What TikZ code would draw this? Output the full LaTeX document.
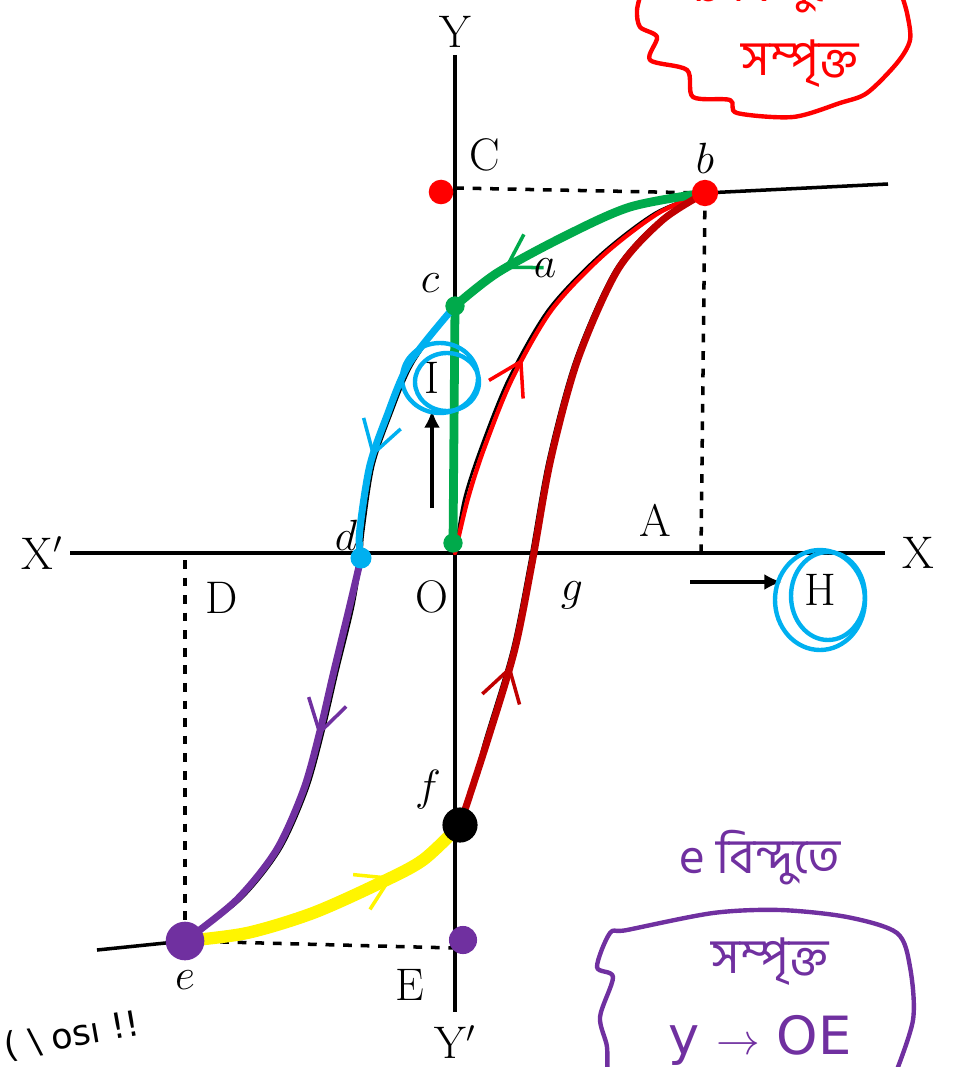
\documentclass[tikz,border=0pt]{standalone}
\usepackage{fontspec}
\newfontfamily\bnfont[Script=Bengali]{Hind Siliguri}
\newfontfamily\handfont{DejaVu Sans}
\usetikzlibrary{arrows.meta,calc,positioning}
\usetikzlibrary{decorations.markings}
\definecolor{grn}{RGB}{0,170,75}
\definecolor{sky}{RGB}{0,176,240}
\definecolor{purp}{RGB}{112,48,160}
\definecolor{dred}{RGB}{192,0,0}
\definecolor{yel}{RGB}{255,245,0}

\begin{document}
\begin{tikzpicture}[x=0.02cm,y=-0.02cm,
every node/.style={font=\fontsize{26}{30}\selectfont},
axis/.style={line width=2pt},
guide/.style={line width=2pt,dash pattern=on 5pt off 5pt},
book/.style={line width=1.5pt},
ink/.style={line width=#1,line cap=round,line join=round},
dot/.style={circle,fill,inner sep=0pt,minimum size=#1},
midarrow/.style={postaction={decorate},decoration={markings,
  mark=at position #1 with {\arrow{Straight Barb[length=18pt,width=22pt,line width=2pt]}}}},
ring/.style={line width=2.5pt,sky},
bn/.style={font=\bnfont\fontsize{28}{32}\selectfont}]
\useasboundingbox (0,0) rectangle (953,1067);
\clip (0,0) rectangle (953,1067);
\coordinate (O) at (455,553);
\coordinate (b) at (705,193);
\coordinate (c) at (455,306);
\coordinate (d) at (361,558);
\coordinate (e) at (185,941);
\coordinate (f) at (460,825);
\coordinate (C) at (455,188);
\coordinate (A) at (701,553);
\coordinate (D) at (185,560);
\coordinate (E) at (455,948);
\coordinate (Ytop) at (455,55);
\coordinate (Ybot) at (455,1012);
\coordinate (Xl) at (70,553);
\coordinate (Xr) at (885,553);
\coordinate (bR) at (888,184);
\coordinate (eL) at (97,950);
\draw[axis] (Ytop)--(Ybot);
\draw[axis] (Xl)--(Xr);
\draw[axis] (b)--(bR);
\draw[axis] (eL)--(e);
\draw[guide] (C)--(b);
\draw[guide] (b)--(A);
\draw[guide] (D)--(e);
\draw[guide] (e)--(E);
\draw[book] plot[smooth] coordinates {(O) (464,500) (480,450) (508,380) (548,310) (600,255) (655,213) (b)};
\draw[book] plot[smooth] coordinates {(b) (630,207) (563,237) (497,273) (c) (413,363) (390,417) (373,467) (363,533) (d) (353,607) (337,673) (323,733) (307,790) (280,850) (240,900) (e)};
\draw[book] plot[smooth] coordinates {(e) (247,933) (313,913) (380,883) (423,860) (f) (485,740) (512,650) (530,560) (548,460) (575,360) (615,270) (660,220) (b)};
\draw[ink=2.5pt,red,midarrow=0.45,xshift=2pt] plot[smooth] coordinates {(O) (464,500) (480,450) (508,380) (548,310) (600,255) (655,213) (b)};
\draw[ink=5pt,grn,midarrow=0.78] plot[smooth] coordinates {(b) (630,207) (563,237) (497,273) (c)};
\draw[ink=5pt,grn] (c)--(453,545);
\draw[ink=4pt,sky,midarrow=0.63,xshift=-2pt] plot[smooth] coordinates {(c) (413,363) (390,417) (373,467) (363,533) (d)};
\draw[ink=4pt,purp,midarrow=0.42,xshift=-2pt] plot[smooth] coordinates {(d) (353,607) (337,673) (323,733) (307,790) (280,850) (240,900) (e)};
\draw[ink=7pt,yel,midarrow=0.72] plot[smooth] coordinates {(e) (247,933) (313,913) (380,883) (423,860) (f)};
\draw[ink=4pt,dred,midarrow=0.24,xshift=1.5pt] plot[smooth] coordinates {(f) (485,740) (512,650) (530,560) (548,460) (575,360) (615,270) (660,220) (b)};
\node[dot=15pt,red] (Pb) at (b) {};
\node[dot=14pt,red] (PC) at (441,192) {};
\node[dot=11pt,grn] (Pc) at (c) {};
\node[dot=11pt,grn] (PO) at (453,543) {};
\node[dot=12pt,sky] (Pd) at (d) {};
\node[dot=22pt,purp] (Pe) at (e) {};
\node[dot=16pt,purp] (PE) at (463,940) {};
\node[dot=20pt,black] (Pf) at (f) {};
\node (tY) at (455,32) {Y};
\node (tY2) at (455,1042) {Y$'$};
\node (tX2) at (42,553) {X$'$};
\node (tX) at (918,553) {X};
\node (tC) at (485,155) {C};
\node (tb) at (705,158) {$b$};
\node (tc) at (430,283) {$c$};
\node (ta) at (545,268) {$a$};
\node (tI) at (432,378) {I};
\node (tA) at (655,520) {A};
\node (td) at (346,535) {$d$};
\node (tO) at (432,597) {O};
\node (tg) at (572,595) {$g$};
\node (tD) at (222,598) {D};
\node (tH) at (820,590) {H};
\node (tf) at (428,790) {$f$};
\node (te) at (185,980) {$e$};
\node (tE) at (410,985) {E};
\coordinate (Itail) at (432,508);
\coordinate (Ihead) at (432,410);
\coordinate (Htail) at (690,582);
\coordinate (Hhead) at (782,582);
\draw[axis,-{Latex[length=10pt,width=9pt]}] (Itail)--(Ihead);
\draw[axis,-{Latex[length=10pt,width=9pt]}] (Htail)--(Hhead);
\draw[ring] (440,378) ellipse [x radius=38,y radius=35];
\draw[ring] (447,382) ellipse [x radius=32,y radius=29];
\draw[ring] (820,600) ellipse [x radius=45,y radius=50];
\draw[ring] (828,596) ellipse [x radius=37,y radius=44];
\draw[ink=2.5pt,red] plot[smooth] coordinates {(642,-10) (637,10) (640,27) (657,37) (650,60) (687,70) (693,97) (730,100) (737,113) (793,117) (840,103) (867,93) (897,63) (910,40) (907,13) (900,-10)};
\node[bn,red] (rTop) at (775,-14) {b বিন্দুতে};
\node[bn,red] (rSat) at (800,64) {সম্পৃক্ত};
\node[bn,purp] (pE) at (760,858) {e বিন্দুতে};
\draw[ink=2.5pt,purp] plot[smooth] coordinates {(607,1080) (607,1047) (600,1017) (613,977) (597,967) (610,933) (627,930) (713,913) (780,910) (847,917) (897,933) (910,967) (913,1020) (893,1080)};
\node[bn,purp] (pSat) at (770,962) {সম্পৃক্ত};
\node[purp,font=\handfont\fontsize{30}{34}\selectfont] (pOE) at (760,1040) {y $\rightarrow$ OE};
\node[rotate=10,font=\handfont\fontsize{20}{24}\selectfont] (scrib) at (72,1036) {( \textbackslash\ osı !!};
\end{tikzpicture}
\end{document}
